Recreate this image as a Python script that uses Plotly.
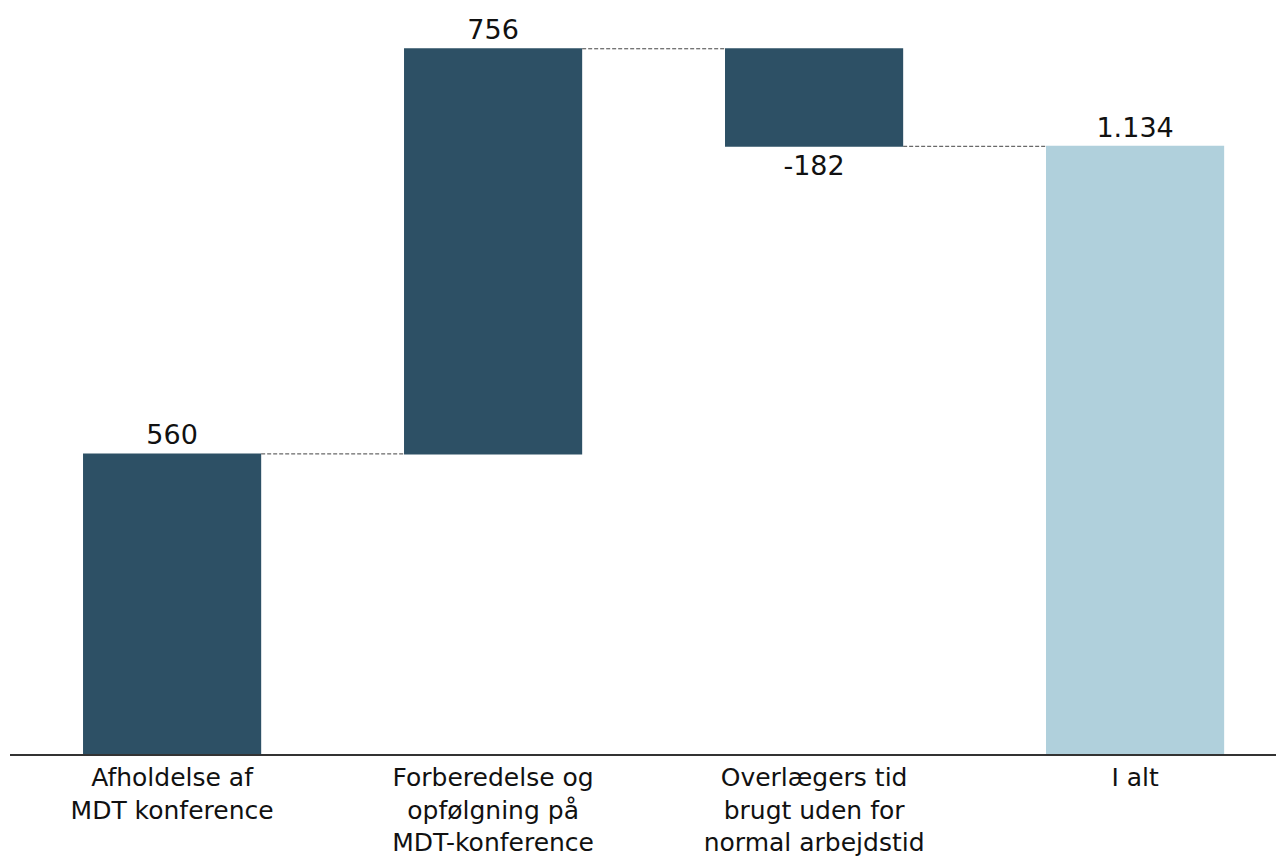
import plotly.graph_objects as go

# Waterfall: components of the MDT conference time and the total
categories = [
    "Afholdelse af<br>MDT konference",
    "Forberedelse og<br>opfølgning på<br>MDT-konference",
    "Overlægers tid<br>brugt uden for<br>normal arbejdstid",
    "I alt",
]
steps = [560, 756, -182]
total = sum(steps)
measures = ["relative", "relative", "relative", "total"]
values = steps + [total]


def fmt(v):
    return f"{v:,}".replace(",", ".")


labels = [fmt(v) for v in values]

DARK = "#2D5065"
LIGHT = "#B0D0DC"
FONT = "DejaVu Sans"

fig = go.Figure(
    go.Waterfall(
        x=categories,
        y=values,
        measure=measures,
        text=labels,
        textposition="outside",
        textfont=dict(family=FONT, size=27, color="#111111"),
        cliponaxis=False,
        width=0.555,
        increasing=dict(marker=dict(color=DARK)),
        decreasing=dict(marker=dict(color=DARK)),
        totals=dict(marker=dict(color=LIGHT)),
        connector=dict(mode="between", line=dict(color="#444444", width=1, dash="4px,2px")),
        hoverinfo="skip",
    )
)

fig.update_layout(
    width=1276,
    height=859,
    margin=dict(l=10, r=0, t=0, b=105),
    plot_bgcolor="white",
    paper_bgcolor="white",
    showlegend=False,
    font=dict(family=FONT, size=25, color="#111111"),
    xaxis=dict(
        range=[-0.505, 3.439],
        automargin=False,
        showline=True,
        linecolor="#333333",
        linewidth=2,
        showgrid=False,
        ticks="",
        tickfont=dict(family=FONT, size=25, color="#111111"),
    ),
    yaxis=dict(
        range=[0, 1407],
        visible=False,
        showgrid=False,
        zeroline=False,
        automargin=False,
    ),
)

fig.write_html("out.html")
